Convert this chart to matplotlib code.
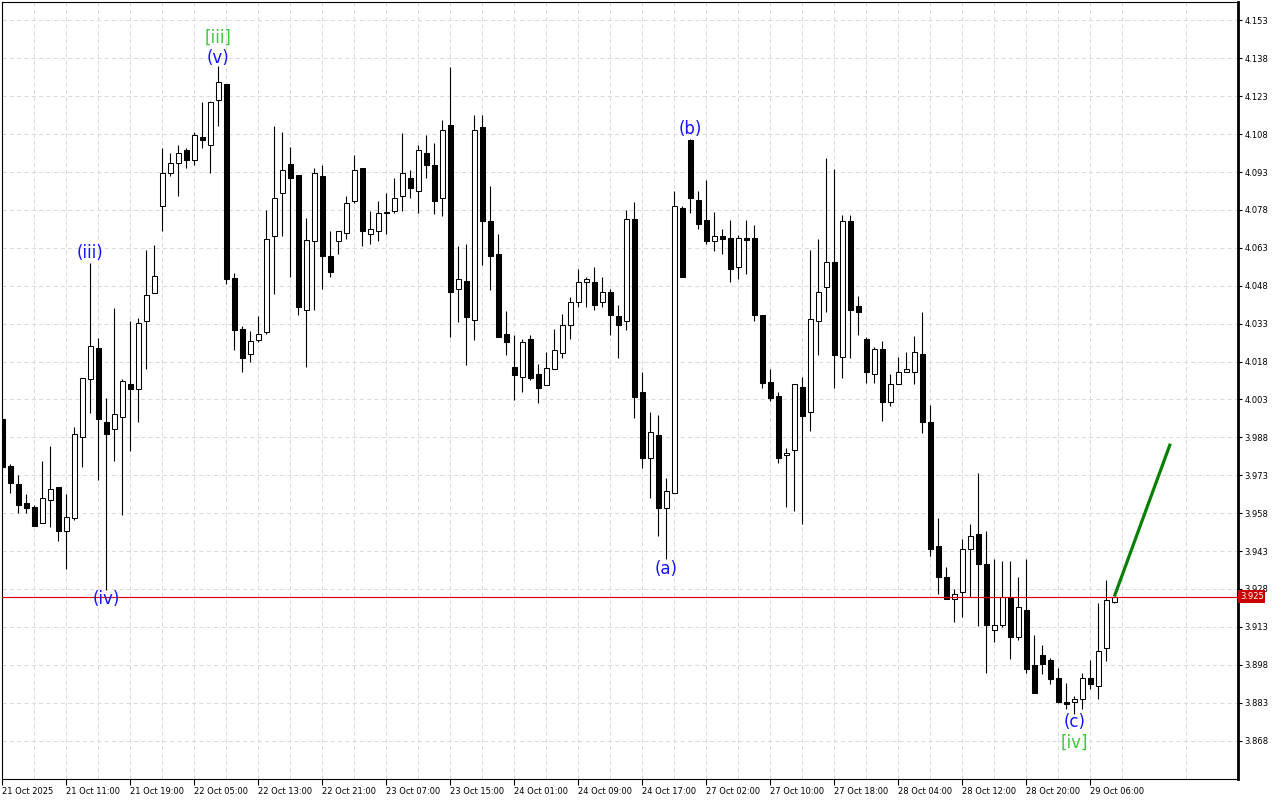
import matplotlib
matplotlib.use("Agg")
import matplotlib.pyplot as plt
import matplotlib.transforms as mtransforms
import numpy as np

# hourly candles (index 0 = 21 Oct 2025 03:00)
opens = [3.9953, 3.9765, 3.9694, 3.9621, 3.9603, 3.9540, 3.9633, 3.9682, 3.9510, 3.9560,
         3.9881, 4.0112, 4.0232, 3.9942, 3.9914, 3.9961, 4.0093, 4.0072, 4.0341, 4.0452,
         4.0797, 4.0927, 4.0967, 4.1019, 4.0979, 4.1067, 4.1037, 4.1214, 4.1280, 4.0511,
         4.0309, 4.0209, 4.0267, 4.0298, 4.0677, 4.0847, 4.0960, 4.0918, 4.0386, 4.0659,
         4.0914, 4.0598, 4.0658, 4.0687, 4.0815, 4.0946, 4.0685, 4.0697, 4.0766, 4.0776,
         4.0835, 4.0908, 4.0855, 4.1005, 4.0958, 4.0827, 4.1115, 4.0468, 4.0497, 4.0344,
         4.1109, 4.0738, 4.0606, 4.0288, 4.0158, 4.0118, 4.0268, 4.0129, 4.0089, 4.0150,
         4.0215, 4.0326, 4.0417, 4.0496, 4.0496, 4.0417, 4.0456, 4.0360, 4.0339, 4.0745,
         4.0058, 3.9797, 3.9888, 3.9600, 3.9659, 4.0789, 4.1056, 4.0818, 4.0739, 4.0659,
         4.0678, 4.0668, 4.0556, 4.0668, 4.0668, 4.0366, 4.0098, 4.0045, 3.9811, 3.9829,
         4.0078, 3.9979, 4.0339, 4.0477, 4.0576, 4.0197, 4.0738, 4.0398, 4.0268, 4.0129,
         4.0228, 4.0019, 4.0090, 4.0138, 4.0137, 4.0210, 3.9940, 3.9450, 3.9329, 3.9240,
         3.9267, 3.9438, 3.9497, 3.9379, 3.9116, 3.9136, 3.9248, 3.9089, 3.9198, 3.8980,
         3.9017, 3.8999, 3.8928, 3.8834, 3.8834, 3.8846, 3.8926, 3.8896, 3.9047, 3.9230]
highs = [3.9970, 3.9773, 3.9733, 3.9654, 3.9613, 3.9786, 3.9844, 3.9682, 3.9654, 3.9923,
         4.0113, 4.0572, 4.0274, 4.0034, 4.0393, 4.0111, 4.0342, 4.0353, 4.0622, 4.0640,
         4.1027, 4.1006, 4.1038, 4.1027, 4.1088, 4.1209, 4.1212, 4.1348, 4.1280, 4.0530,
         4.0322, 4.0301, 4.0361, 4.0780, 4.1112, 4.1088, 4.1030, 4.0918, 4.0748, 4.0948,
         4.0958, 4.0697, 4.0696, 4.0837, 4.0997, 4.0946, 4.0777, 4.0817, 4.0847, 4.0908,
         4.1085, 4.0939, 4.1038, 4.1076, 4.1044, 4.1135, 4.1344, 4.0639, 4.0647, 4.1156,
         4.1156, 4.0876, 4.0686, 4.0379, 4.0286, 4.0269, 4.0286, 4.0169, 4.0217, 4.0307,
         4.0367, 4.0437, 4.0547, 4.0515, 4.0556, 4.0515, 4.0468, 4.0404, 4.0780, 4.0811,
         4.0137, 3.9979, 3.9968, 3.9718, 4.0857, 4.0796, 4.1062, 4.0857, 4.0897, 4.0771,
         4.0706, 4.0739, 4.0680, 4.0739, 4.0719, 4.0366, 4.0150, 4.0058, 3.9837, 4.0090,
         4.0117, 4.0622, 4.0667, 4.0987, 4.0941, 4.0759, 4.0759, 4.0439, 4.0279, 4.0236,
         4.0260, 4.0129, 4.0197, 4.0218, 4.0280, 4.0377, 4.0007, 3.9560, 3.9368, 3.9280,
         3.9479, 3.9537, 3.9740, 3.9510, 3.9400, 3.9392, 3.9392, 3.9329, 3.9400, 3.9099,
         3.9058, 3.9007, 3.8966, 3.8906, 3.8856, 3.8946, 3.8997, 3.9226, 3.9317, 3.9250]
lows = [3.9740, 3.9659, 3.9580, 3.9580, 3.9529, 3.9540, 3.9527, 3.9470, 3.9358, 3.9554,
        3.9762, 3.9978, 3.9712, 3.9274, 3.9788, 3.9572, 3.9828, 3.9939, 4.0150, 4.0452,
        4.0697, 4.0914, 4.0835, 4.0946, 4.0956, 4.1025, 4.0925, 4.1114, 4.0485, 4.0227,
        4.0138, 4.0177, 4.0259, 4.0288, 4.0447, 4.0677, 4.0514, 4.0364, 4.0157, 4.0385,
        4.0468, 4.0515, 4.0605, 4.0665, 4.0808, 4.0637, 4.0646, 4.0656, 4.0685, 4.0767,
        4.0776, 4.0826, 4.0767, 4.0905, 4.0765, 4.0755, 4.0279, 4.0336, 4.0167, 4.0265,
        4.0564, 4.0465, 4.0277, 4.0205, 4.0027, 4.0058, 4.0107, 4.0018, 4.0089, 4.0150,
        4.0196, 4.0268, 4.0396, 4.0396, 4.0384, 4.0396, 4.0285, 4.0195, 4.0306, 3.9958,
        3.9758, 3.9639, 3.9489, 3.9397, 3.9659, 4.0516, 4.0769, 4.0706, 4.0647, 4.0618,
        4.0606, 4.0495, 4.0506, 4.0527, 4.0339, 4.0077, 4.0024, 3.9778, 3.9606, 3.9587,
        3.9537, 3.9907, 4.0207, 4.0377, 4.0077, 4.0116, 4.0195, 4.0286, 4.0096, 4.0096,
        3.9946, 4.0005, 4.0090, 4.0137, 4.0090, 3.9899, 3.9409, 3.9259, 3.9240, 3.9148,
        3.9168, 3.9247, 3.9135, 3.8946, 3.9070, 3.9128, 3.9004, 3.9077, 3.8946, 3.8867,
        3.8944, 3.8905, 3.8830, 3.8804, 3.8784, 3.8806, 3.8884, 3.8846, 3.8994, 3.9226]
closes = [3.9762, 3.9699, 3.9612, 3.9600, 3.9529, 3.9642, 3.9675, 3.9509, 3.9563, 3.9894,
          4.0113, 4.0242, 3.9952, 3.9894, 3.9973, 4.0105, 4.0072, 4.0333, 4.0444, 4.0517,
          4.0927, 4.0967, 4.1006, 4.0977, 4.1077, 4.1056, 4.1209, 4.1288, 4.0507, 4.0305,
          4.0196, 4.0261, 4.0290, 4.0667, 4.0829, 4.0940, 4.0906, 4.0397, 4.0660, 4.0927,
          4.0597, 4.0535, 4.0696, 4.0808, 4.0938, 4.0696, 4.0705, 4.0768, 4.0770, 4.0827,
          4.0926, 4.0865, 4.1017, 4.0956, 4.0815, 4.1096, 4.0455, 4.0508, 4.0356, 4.1096,
          4.0735, 4.0597, 4.0277, 4.0258, 4.0127, 4.0259, 4.0115, 4.0076, 4.0156, 4.0227,
          4.0326, 4.0417, 4.0496, 4.0508, 4.0404, 4.0456, 4.0365, 4.0325, 4.0745, 4.0038,
          3.9797, 3.9900, 3.9600, 3.9666, 4.0796, 4.0516, 4.0827, 4.0726, 4.0657, 4.0678,
          4.0666, 4.0547, 4.0668, 4.0660, 4.0365, 4.0096, 4.0037, 3.9797, 3.9818, 4.0090,
          3.9966, 4.0347, 4.0457, 4.0576, 4.0207, 4.0738, 4.0386, 4.0378, 4.0137, 4.0228,
          4.0019, 4.0090, 4.0137, 4.0150, 4.0218, 3.9939, 3.9437, 3.9326, 3.9240, 3.9260,
          3.9438, 3.9490, 3.9377, 3.9136, 3.9139, 3.9248, 3.9089, 3.9210, 3.8965, 3.8867,
          3.8985, 3.8925, 3.8834, 3.8826, 3.8846, 3.8926, 3.8904, 3.9036, 3.9237, 3.9250]

time_labels = ["21 Oct 2025", "21 Oct 11:00", "21 Oct 19:00", "22 Oct 05:00", "22 Oct 13:00",
               "22 Oct 21:00", "23 Oct 07:00", "23 Oct 15:00", "24 Oct 01:00", "24 Oct 09:00",
               "24 Oct 17:00", "27 Oct 02:00", "27 Oct 10:00", "27 Oct 18:00", "28 Oct 04:00",
               "28 Oct 12:00", "28 Oct 20:00", "29 Oct 06:00"]
time_label_idx = list(range(0, 137, 8))
price_ticks = [3.868, 3.883, 3.898, 3.913, 3.928, 3.943, 3.958, 3.973, 3.988, 4.003,
               4.018, 4.033, 4.048, 4.063, 4.078, 4.093, 4.108, 4.123, 4.138, 4.153]
current_price = 3.925

# wave marks
wave_text = ["(iii)", "(iv)", "[iii]", "(v)", "(a)", "(b)", "(c)", "[iv]"]
wave_idx = [11, 13, 27, 27, 83, 86, 134, 134]
wave_price = [4.0610, 3.9240, 4.1461, 4.1382, 3.9360, 4.1101, 3.8752, 3.8673]
wave_color = ["#1414ff", "#1414ff", "#3cc83c", "#1414ff", "#1414ff", "#1414ff", "#1414ff", "#3cc83c"]

# projected move
proj_idx = [139, 146]
proj_price = [3.925, 3.9855]

o = np.array(opens)
c = np.array(closes)
idx = np.arange(len(o))

fig = plt.figure(figsize=(12.8, 8), dpi=100)
ax = fig.add_axes([2 / 1280, 21 / 800, 1236 / 1280, 777 / 800])

ax.vlines(idx, lows, highs, color="black", linewidth=0.8, zorder=2)
body_lo = np.minimum(o, c)
body_h = np.maximum(np.abs(c - o), 0.00012)
fills = np.where(c >= o, "white", "black")
ax.bar(idx, body_h, bottom=body_lo, width=0.58, color=fills, edgecolor="black",
       linewidth=0.75, zorder=3)

ax.axhline(current_price, color="#dd0000", linewidth=0.85, zorder=4)
ax.plot(proj_idx, proj_price, color="#088008", linewidth=2.3, zorder=5,
        solid_capstyle="butt")

for t, i, p, col in zip(wave_text, wave_idx, wave_price, wave_color):
    ax.text(i, p, t, color=col, fontsize=12, ha="center", va="center", zorder=6)

ax.set_xlim(-0.04, 154.46)
ax.set_ylim(3.8528, 4.1603)

ax.yaxis.tick_right()
ax.set_yticks(price_ticks)
ax.set_yticklabels(["%.3f" % p for p in price_ticks])
ax.set_xticks(time_label_idx)
ax.set_xticklabels(time_labels, ha="left")
ax.set_xticks(np.arange(4, 155, 8), minor=True)
ax.tick_params(axis="y", which="major", length=3, width=0.8, pad=1.5, labelsize=6)
ax.tick_params(axis="x", which="major", length=4, width=0.8, pad=1.5, labelsize=6)
ax.tick_params(axis="x", which="minor", length=0)

ax.set_axisbelow(True)
ax.grid(True, which="both", color="#dcdcdc", linestyle=(0, (4, 3)), linewidth=0.75)

for s in ["left", "top", "bottom"]:
    ax.spines[s].set_linewidth(0.8)
ax.spines["right"].set_linewidth(2.0)

trans = mtransforms.blended_transform_factory(ax.transAxes, ax.transData)
ax.text(1.0015, current_price, "%.3f" % current_price, transform=trans, color="white",
        fontsize=6, ha="left", va="center", zorder=7,
        bbox=dict(boxstyle="square,pad=0.2", fc="#c80000", ec="none"))

fig.savefig("out.png", dpi=100)
